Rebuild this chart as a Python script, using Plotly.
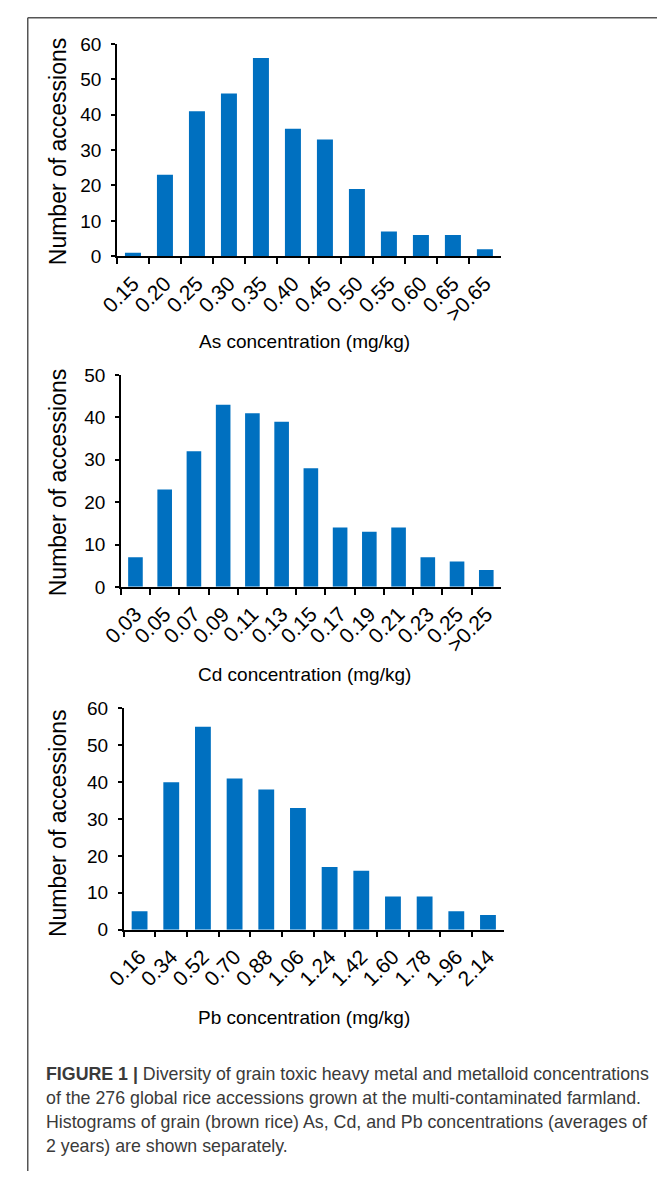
import plotly.graph_objects as go

W, H = 657, 1182

# Histogram bins and counts for each metal
as_bins = ["0.15", "0.20", "0.25", "0.30", "0.35", "0.40", "0.45", "0.50", "0.55", "0.60", "0.65", ">0.65"]
as_counts = [1, 23, 41, 46, 56, 36, 33, 19, 7, 6, 6, 2]

cd_bins = ["0.03", "0.05", "0.07", "0.09", "0.11", "0.13", "0.15", "0.17", "0.19", "0.21", "0.23", "0.25", ">0.25"]
cd_counts = [7, 23, 32, 43, 41, 39, 28, 14, 13, 14, 7, 6, 4]

pb_bins = ["0.16", "0.34", "0.52", "0.70", "0.88", "1.06", "1.24", "1.42", "1.60", "1.78", "1.96", "2.14"]
pb_counts = [5, 40, 55, 41, 38, 33, 17, 16, 9, 9, 5, 4]

y_title = "Number of accessions"
x_titles = ["As concentration (mg/kg)", "Cd concentration (mg/kg)", "Pb concentration (mg/kg)"]

caption_lines = [
    "<b>FIGURE 1 |</b> Diversity of grain toxic heavy metal and metalloid concentrations",
    "of the 276 global rice accessions grown at the multi-contaminated farmland.",
    "Histograms of grain (brown rice) As, Cd, and Pb concentrations (averages of",
    "2 years) are shown separately.",
]

BAR = "#0070C0"
FONT = "Liberation Sans, Arial, sans-serif"


def px_x(p):
    return p / W


def px_y(p):
    return 1 - p / H


# panel geometry in pixels: left, right, top, bottom, y max, x-title y, y-title y
panels = [
    (as_bins, as_counts, 100, 496, 34.5, 250.7, 60, 337, 144),
    (cd_bins, cd_counts, 104, 496, 371.7, 587.3, 50, 677, 481),
    (pb_bins, pb_counts, 107, 499, 711, 936.3, 60, 1026, 828),
]

fig = go.Figure()
layout = dict(
    width=W, height=H,
    margin=dict(l=0, r=0, t=0, b=0),
    paper_bgcolor="white", plot_bgcolor="white",
    showlegend=False,
    font=dict(family=FONT, color="black"),
    bargap=0.5,
)

annotations = []
for i, (bins, counts, l, r, t, b, ymax, xt_y, yt_y) in enumerate(panels):
    n = i + 1
    xa = "x" if n == 1 else f"x{n}"
    ya = "y" if n == 1 else f"y{n}"
    fig.add_trace(go.Bar(x=bins, y=counts, marker=dict(color=BAR, line=dict(width=0)),
                         xaxis=xa, yaxis=ya))
    xkey = "xaxis" if n == 1 else f"xaxis{n}"
    ykey = "yaxis" if n == 1 else f"yaxis{n}"
    layout[xkey] = dict(
        domain=[px_x(l), px_x(r)], anchor=ya, type="category",
        range=[-0.5, len(bins) - 0.5],
        showline=True, linecolor="black", linewidth=1.5,
        ticks="outside", tickson="boundaries", ticklen=6, tickwidth=1.5, tickcolor="black",
        tickangle=-45, ticklabelstandoff=5,
        tickfont=dict(size=21, family=FONT, color="black"),
        showgrid=False, zeroline=False,
    )
    layout[ykey] = dict(
        domain=[px_y(b), px_y(t)], anchor=xa,
        range=[0, ymax], dtick=10, tick0=0,
        showline=True, linecolor="black", linewidth=1.5,
        ticks="outside", ticklen=4, tickwidth=1.5, tickcolor="black",
        ticklabelstandoff=6,
        tickfont=dict(size=19, family=FONT, color="black"),
        showgrid=False, zeroline=False,
    )
    annotations.append(dict(
        text=x_titles[i], x=px_x(293), y=px_y(xt_y), xref="paper", yref="paper",
        xanchor="center", yanchor="middle", showarrow=False,
        font=dict(size=19, family=FONT, color="black"),
    ))
    annotations.append(dict(
        text=y_title, x=px_x(40), y=px_y(yt_y), xref="paper", yref="paper",
        xanchor="center", yanchor="middle", showarrow=False, textangle=-90,
        font=dict(size=23, family=FONT, color="black"),
    ))

cap_y = [1083, 1108, 1132, 1157]
for line, cy in zip(caption_lines, cap_y):
    annotations.append(dict(
        text=line, x=px_x(25), y=px_y(cy), xref="paper", yref="paper",
        xanchor="left", yanchor="middle", showarrow=False,
        font=dict(size=17.8, family=FONT, color="#3a3a3a"),
    ))

layout["annotations"] = annotations
layout["shapes"] = [
    dict(type="line", xref="paper", yref="paper", x0=px_x(8), x1=px_x(8), y0=0, y1=px_y(8),
         line=dict(color="#555555", width=1.5)),
    dict(type="line", xref="paper", yref="paper", x0=px_x(8), x1=1, y0=px_y(8), y1=px_y(8),
         line=dict(color="#555555", width=1.5)),
]

fig.update_layout(**layout)
fig.write_html("out.html")
